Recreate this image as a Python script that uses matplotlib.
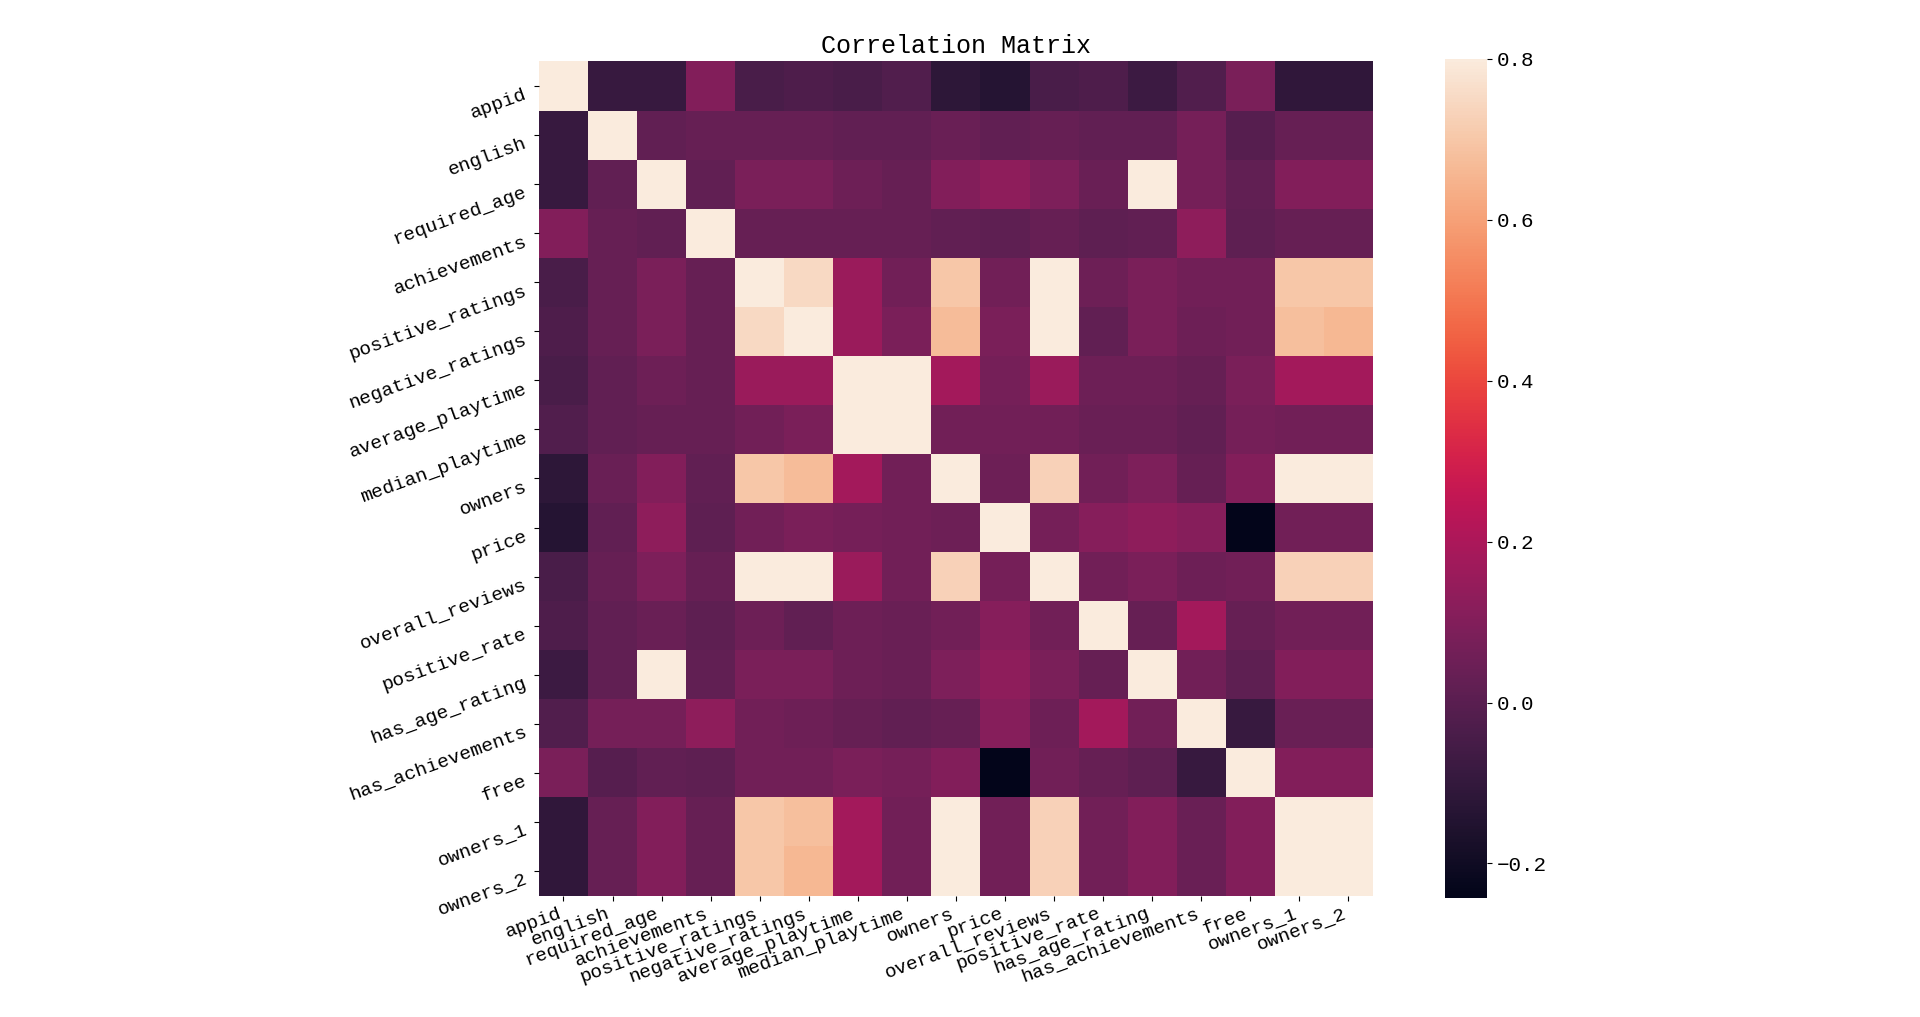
import numpy as np
import pandas as pd
import matplotlib
matplotlib.use("Agg")
import matplotlib.pyplot as plt
import seaborn as sns

labels = ["appid", "english", "required_age", "achievements", "positive_ratings",
          "negative_ratings", "average_playtime", "median_playtime", "owners", "price",
          "overall_reviews", "positive_rate", "has_age_rating", "has_achievements",
          "free", "owners_1", "owners_2"]

# upper triangle, one list per row (values right of the diagonal)
r_appid = [-0.09, -0.09, 0.10, -0.04, -0.03, -0.04, -0.02, -0.12, -0.14, -0.04, -0.03, -0.08, -0.02, 0.08, -0.11, -0.11]
r_english = [0.02, 0.03, 0.03, 0.03, 0.02, 0.02, 0.04, 0.02, 0.03, 0.02, 0.02, 0.07, -0.01, 0.03, 0.03]
r_required_age = [0.02, 0.08, 0.08, 0.05, 0.03, 0.10, 0.13, 0.09, 0.04, 0.93, 0.07, 0.02, 0.10, 0.10]
r_achievements = [0.03, 0.03, 0.03, 0.03, 0.02, 0.01, 0.03, 0.01, 0.02, 0.13, 0.01, 0.03, 0.03]
r_positive_ratings = [0.75, 0.16, 0.06, 0.70, 0.06, 0.95, 0.05, 0.08, 0.06, 0.06, 0.70, 0.70]
r_negative_ratings = [0.16, 0.08, 0.67, 0.08, 0.90, 0.02, 0.08, 0.05, 0.06, 0.68, 0.66]
r_average_playtime = [0.92, 0.18, 0.07, 0.16, 0.05, 0.05, 0.03, 0.08, 0.18, 0.18]
r_median_playtime = [0.06, 0.06, 0.06, 0.04, 0.04, 0.02, 0.07, 0.06, 0.06]
r_owners = [0.05, 0.73, 0.06, 0.09, 0.03, 0.10, 0.99, 0.98]
r_price = [0.07, 0.11, 0.13, 0.11, -0.243, 0.06, 0.06]
r_overall_reviews = [0.06, 0.08, 0.05, 0.06, 0.73, 0.73]
r_positive_rate = [0.03, 0.18, 0.03, 0.06, 0.06]
r_has_age_rating = [0.06, 0.01, 0.10, 0.10]
r_has_achievements = [-0.09, 0.04, 0.04]
r_free = [0.10, 0.10]
r_owners_1 = [0.98]

upper_rows = [r_appid, r_english, r_required_age, r_achievements, r_positive_ratings,
              r_negative_ratings, r_average_playtime, r_median_playtime, r_owners, r_price,
              r_overall_reviews, r_positive_rate, r_has_age_rating, r_has_achievements,
              r_free, r_owners_1]

n = len(labels)
m = np.eye(n)
for i, row in enumerate(upper_rows):
    for k, v in enumerate(row):
        j = i + 1 + k
        m[i, j] = v
        m[j, i] = v
corr = pd.DataFrame(m, index=labels, columns=labels)

plt.rcParams['font.family'] = ['Liberation Mono', 'DejaVu Sans']

fig = plt.figure(figsize=(19.2, 10.17), dpi=100)
ax = fig.add_axes([0.2807, 0.117, 0.4344, 0.825])
cax = fig.add_axes([0.7526, 0.117, 0.0219, 0.825])

sns.heatmap(corr, vmax=0.8, square=True, ax=ax, cbar_ax=cax)

ax.set_title("Correlation Matrix", fontsize=18)
ax.set_xticklabels(labels, rotation=20, ha="right", fontsize=14)
ax.set_yticklabels(labels, rotation=20, va="top", fontsize=14)
cax.tick_params(labelsize=15)

fig.savefig("out.png", dpi=100)
